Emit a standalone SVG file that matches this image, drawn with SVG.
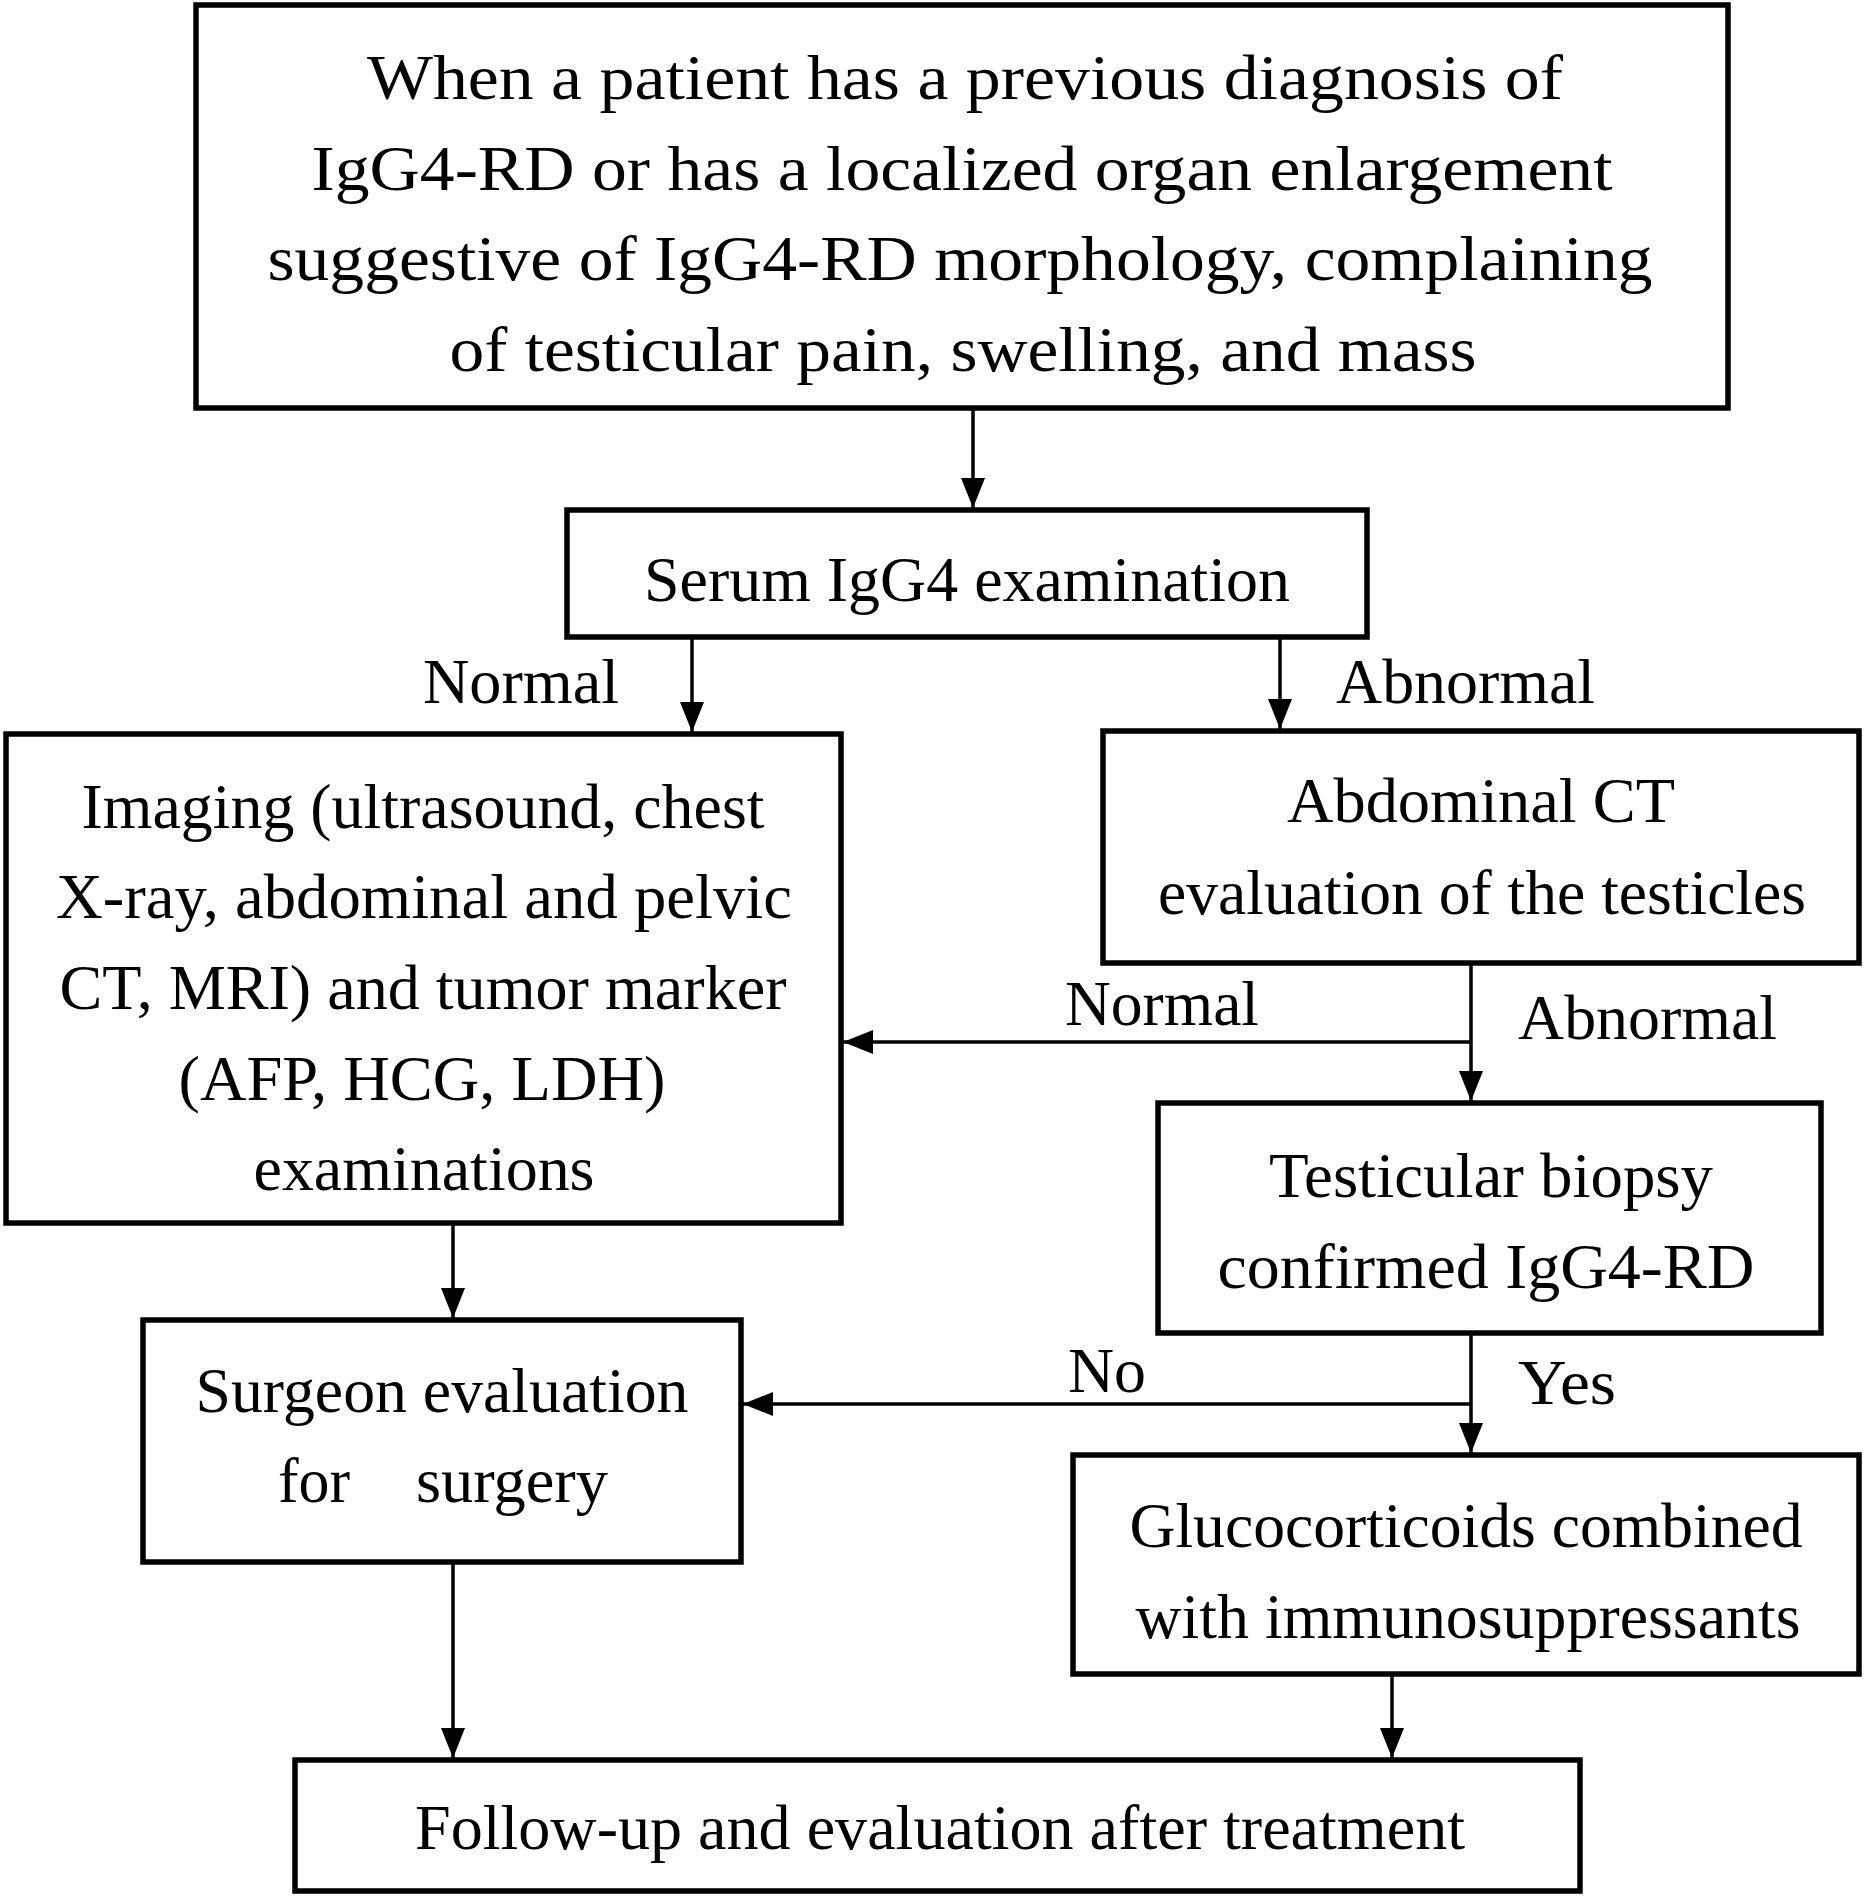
<svg xmlns="http://www.w3.org/2000/svg" width="1866" height="1897" viewBox="0 0 1866 1897">
<style>
.box{fill:#fff;stroke:#000;stroke-width:5.5}
.t{font-family:"Liberation Serif","Times New Roman",serif;font-size:64px;fill:#000;text-anchor:middle}
.l{font-family:"Liberation Serif","Times New Roman",serif;font-size:64px;fill:#000}
.c{stroke:#000;stroke-width:3.5;fill:none}
</style>
<defs>
<marker id="ah" markerUnits="userSpaceOnUse" markerWidth="30" markerHeight="24" refX="30" refY="12" orient="auto">
<path d="M0,0 L30,12 L0,24 z" fill="#000"/>
</marker>
</defs>
<rect width="1866" height="1897" fill="#fff"/>
<g id="connectors">
<line class="c" x1="973" y1="408" x2="973" y2="508" marker-end="url(#ah)"/>
<line class="c" x1="692" y1="637" x2="692" y2="732" marker-end="url(#ah)"/>
<line class="c" x1="1280" y1="637" x2="1280" y2="729" marker-end="url(#ah)"/>
<line class="c" x1="1471" y1="963" x2="1471" y2="1101" marker-end="url(#ah)"/>
<polyline class="c" points="1471,1042 843,1042" marker-end="url(#ah)"/>
<line class="c" x1="1471" y1="1333" x2="1471" y2="1453" marker-end="url(#ah)"/>
<polyline class="c" points="1471,1404 743,1404" marker-end="url(#ah)"/>
<line class="c" x1="453" y1="1223" x2="453" y2="1318" marker-end="url(#ah)"/>
<line class="c" x1="453" y1="1562" x2="453" y2="1758" marker-end="url(#ah)"/>
<line class="c" x1="1392" y1="1674" x2="1392" y2="1758" marker-end="url(#ah)"/>
<text class="l" x="423" y="703" textLength="196" lengthAdjust="spacingAndGlyphs">Normal</text>
<text class="l" x="1336" y="703" textLength="259" lengthAdjust="spacingAndGlyphs">Abnormal</text>
<text class="l" x="1065" y="1025" textLength="194" lengthAdjust="spacingAndGlyphs">Normal</text>
<text class="l" x="1518" y="1039" textLength="259" lengthAdjust="spacingAndGlyphs">Abnormal</text>
<text class="l" x="1068" y="1392" textLength="78" lengthAdjust="spacingAndGlyphs">No</text>
<text class="l" x="1518" y="1404" textLength="98" lengthAdjust="spacingAndGlyphs">Yes</text>
</g>
<g id="n_start">
<rect class="box" x="196" y="5" width="1532" height="403"/>
<text class="t" x="965" y="99" textLength="1196" lengthAdjust="spacingAndGlyphs">When a patient has a previous diagnosis of</text>
<text class="t" x="962" y="190" textLength="1301" lengthAdjust="spacingAndGlyphs">IgG4-RD or has a localized organ enlargement</text>
<text class="t" x="960" y="280" textLength="1385" lengthAdjust="spacingAndGlyphs">suggestive of IgG4-RD morphology, complaining</text>
<text class="t" x="963" y="371" textLength="1027" lengthAdjust="spacingAndGlyphs">of testicular pain, swelling, and mass</text>
</g>
<g id="n_serum">
<rect class="box" x="567" y="510" width="800" height="127"/>
<text class="t" x="967" y="601" textLength="646" lengthAdjust="spacingAndGlyphs">Serum IgG4 examination</text>
</g>
<g id="n_imaging">
<rect class="box" x="6" y="734" width="835" height="489"/>
<text class="t" x="423" y="828" textLength="683" lengthAdjust="spacingAndGlyphs">Imaging (ultrasound, chest</text>
<text class="t" x="424" y="918" textLength="736" lengthAdjust="spacingAndGlyphs">X-ray, abdominal and pelvic</text>
<text class="t" x="423" y="1009" textLength="727" lengthAdjust="spacingAndGlyphs">CT, MRI) and tumor marker</text>
<text class="t" x="422" y="1100" textLength="487" lengthAdjust="spacingAndGlyphs">(AFP, HCG, LDH)</text>
<text class="t" x="424" y="1190" textLength="341" lengthAdjust="spacingAndGlyphs">examinations</text>
</g>
<g id="n_abdct">
<rect class="box" x="1103" y="731" width="756" height="232"/>
<text class="t" x="1481" y="822" textLength="388" lengthAdjust="spacingAndGlyphs">Abdominal CT</text>
<text class="t" x="1482" y="914" textLength="648" lengthAdjust="spacingAndGlyphs">evaluation of the testicles</text>
</g>
<g id="n_biopsy">
<rect class="box" x="1158" y="1103" width="663" height="230"/>
<text class="t" x="1491" y="1197" textLength="444" lengthAdjust="spacingAndGlyphs">Testicular biopsy</text>
<text class="t" x="1486" y="1288" textLength="537" lengthAdjust="spacingAndGlyphs">confirmed IgG4-RD</text>
</g>
<g id="n_surgeon">
<rect class="box" x="143" y="1320" width="598" height="242"/>
<text class="t" x="442" y="1412" textLength="493" lengthAdjust="spacingAndGlyphs">Surgeon evaluation</text>
<text class="l" y="1502"><tspan x="278" textLength="72" lengthAdjust="spacingAndGlyphs">for</tspan><tspan x="416" textLength="192" lengthAdjust="spacingAndGlyphs">surgery</tspan></text>
</g>
<g id="n_gluco">
<rect class="box" x="1073" y="1455" width="786" height="219"/>
<text class="t" x="1466" y="1547" textLength="673" lengthAdjust="spacingAndGlyphs">Glucocorticoids combined</text>
<text class="t" x="1468" y="1638" textLength="665" lengthAdjust="spacingAndGlyphs">with immunosuppressants</text>
</g>
<g id="n_follow">
<rect class="box" x="295" y="1760" width="1285" height="131"/>
<text class="t" x="940" y="1849" textLength="1050" lengthAdjust="spacingAndGlyphs">Follow-up and evaluation after treatment</text>
</g>
</svg>
